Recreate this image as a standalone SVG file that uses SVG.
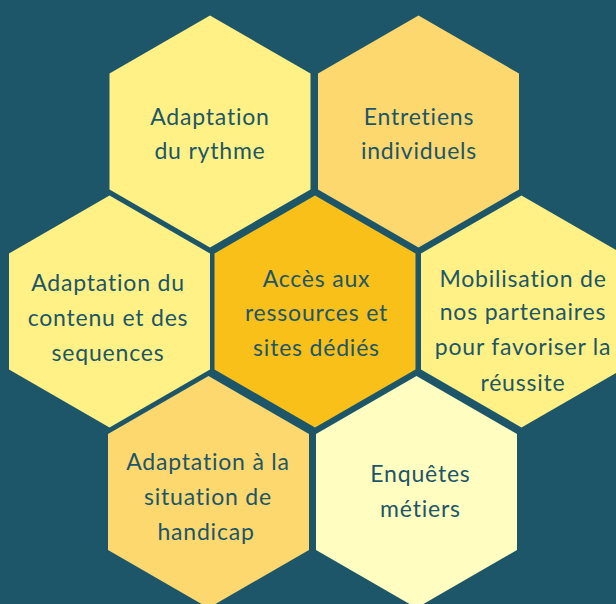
<svg xmlns="http://www.w3.org/2000/svg" width="616" height="604" viewBox="0 0 616 604">
<style>
.bg{fill:#1d5668}
.t{font-family:Lato,"Noto Sans",sans-serif;font-size:23px;font-weight:400;fill:#1d5668;text-anchor:middle;letter-spacing:0.8px}
.c1{fill:#fff185}
.c2{fill:#fcd86f}
.c3{fill:#f8c019}
.c4{fill:#fffdc0}
</style>
<defs>
<polygon id="hex" points="0,-116 100.5,-58 100.5,58 0,116 -100.5,58 -100.5,-58"/>
</defs>
<rect class="bg" x="0" y="0" width="616" height="604"/>
<g id="n1"><use href="#hex" class="c1" x="210" y="131.5"/>
<text class="t" x="210" y="125">Adaptation</text><text class="t" x="210" y="159">du rythme</text></g>
<g id="n2"><use href="#hex" class="c2" x="418.5" y="131.5"/>
<text class="t" x="419" y="125">Entretiens</text><text class="t" x="419" y="159">individuels</text></g>
<g id="n3"><use href="#hex" class="c1" x="109.5" y="311.5"/>
<text class="t" x="108" y="291">Adaptation du</text><text class="t" x="108" y="326">contenu et des</text><text class="t" x="108" y="361">sequences</text></g>
<g id="n4"><use href="#hex" class="c3" x="315" y="311.5"/>
<text class="t" x="316.5" y="287">Accès aux</text><text class="t" x="316.5" y="321">ressources et</text><text class="t" x="316.5" y="356">sites dédiés</text></g>
<g id="n5"><use href="#hex" class="c1" x="521.5" y="311.5"/>
<text class="t" x="523" y="287">Mobilisation de</text><text class="t" x="523" y="320">nos partenaires</text><text class="t" x="523" y="355">pour favoriser la</text><text class="t" x="523" y="391">réussite</text></g>
<g id="n6"><use href="#hex" class="c2" x="208.5" y="492"/>
<text class="t" x="208" y="470">Adaptation à la</text><text class="t" x="208" y="505">situation de</text><text class="t" x="206" y="540">handicap</text></g>
<g id="n7"><use href="#hex" class="c4" x="416.5" y="492"/>
<text class="t" x="420.5" y="482">Enquêtes</text><text class="t" x="420.5" y="517">métiers</text></g>
<g id="connectors"/>
</svg>
